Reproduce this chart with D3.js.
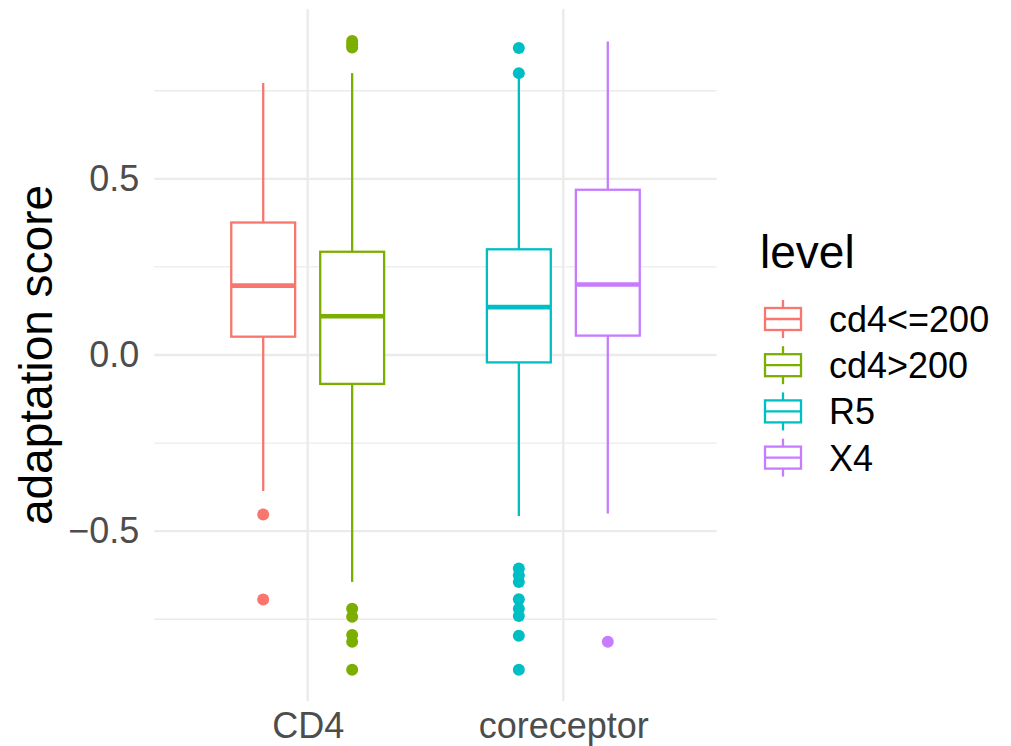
<!DOCTYPE html>
<html>
<head>
<meta charset="utf-8">
<script src="https://cdn.jsdelivr.net/npm/d3@7"></script>
<style>
  html, body { margin: 0; padding: 0; background: #ffffff; }
  svg { display: block; font-family: "Liberation Sans", Arial, Helvetica, sans-serif; }
</style>
</head>
<body>
<svg id="chart" width="1011" height="746"></svg>
<script>
// ---- Data ----
const groups = ["CD4", "coreceptor"];
const levels = ["cd4<=200", "cd4>200", "R5", "X4"];
const levelGroup = ["CD4", "CD4", "coreceptor", "coreceptor"];
const levelColors = ["#F8766D", "#7CAE00", "#00BFC4", "#C77CFF"];
const whiskerLow  = [-0.386, -0.644, -0.457, -0.450];
const q1          = [ 0.052, -0.082, -0.021,  0.055];
const median      = [ 0.197,  0.110,  0.136,  0.200];
const q3          = [ 0.376,  0.293,  0.300,  0.469];
const whiskerHigh = [ 0.772,  0.800,  0.795,  0.890];
const outliersCd4Low  = [-0.453, -0.694];
const outliersCd4High = [0.891, 0.882, 0.873, -0.720, -0.743, -0.795, -0.814, -0.893];
const outliersR5      = [0.871, 0.800, -0.606, -0.625, -0.644, -0.693, -0.720, -0.741, -0.797, -0.893];
const outliersX4      = [-0.814];
const outliers = [outliersCd4Low, outliersCd4High, outliersR5, outliersX4];
const yMajorTicks = [-0.5, 0.0, 0.5];
const yMinorTicks = [-0.75, -0.25, 0.25, 0.75];
const yTitle = "adaptation score";
const legendTitle = "level";

// ---- Layout ----
const svg = d3.select("#chart");
const panel = { left: 154.3, right: 716.7, top: 9, bottom: 701 };
const x = d3.scalePoint().domain(groups).range([panel.left, panel.right]).padding(0.6);
const step = x.step();
const y = d3.scaleLinear().domain([-0.982, 0.982]).range([panel.bottom, panel.top]);
const dodgeIdx = levels.map((l, i) => levelGroup.slice(0, i).filter(g => g === levelGroup[i]).length);
const nInGroup = levels.map((l, i) => levelGroup.filter(g => g === levelGroup[i]).length);
const dodgeOff = 0.174 * step * 2;
const boxW = 0.25 * step;
const cx = i => x(levelGroup[i]) + (dodgeIdx[i] - (nInGroup[i] - 1) / 2) * dodgeOff;

const gridColor = "#EBEBEB";
const g = svg.append("g");

// minor grid
g.selectAll("line.minor").data(yMinorTicks).join("line")
  .attr("x1", panel.left).attr("x2", panel.right)
  .attr("y1", d => y(d)).attr("y2", d => y(d))
  .attr("stroke", gridColor).attr("stroke-width", 1.3);
// major grid
g.selectAll("line.major").data(yMajorTicks).join("line")
  .attr("x1", panel.left).attr("x2", panel.right)
  .attr("y1", d => y(d)).attr("y2", d => y(d))
  .attr("stroke", gridColor).attr("stroke-width", 2.4);
g.selectAll("line.vmajor").data(groups).join("line")
  .attr("x1", d => x(d)).attr("x2", d => x(d))
  .attr("y1", panel.top).attr("y2", panel.bottom)
  .attr("stroke", gridColor).attr("stroke-width", 2.4);

// axes
const yAxis = d3.axisLeft(y).tickValues(yMajorTicks).tickSize(0).tickPadding(15)
  .tickFormat(d3.format(".1f"));
const ya = svg.append("g").attr("transform", `translate(${panel.left},0)`).call(yAxis);
ya.select(".domain").remove();
ya.selectAll("text").attr("fill", "#4D4D4D").attr("font-size", 36)
  .attr("font-family", "Liberation Sans, Arial, sans-serif");

const xAxis = d3.axisBottom(x).tickSize(0);
const xa = svg.append("g").attr("transform", `translate(0,${panel.bottom})`).call(xAxis);
xa.select(".domain").remove();
xa.selectAll("text").attr("fill", "#4D4D4D").attr("font-size", 36)
  .attr("font-family", "Liberation Sans, Arial, sans-serif")
  .attr("dy", null).attr("y", 36.5);

// y title
svg.append("text")
  .attr("transform", `translate(52,${(panel.top + panel.bottom) / 2}) rotate(-90)`)
  .attr("text-anchor", "middle").attr("font-size", 46).attr("fill", "#000")
  .text(yTitle);

// boxes
const boxes = svg.append("g");
levels.forEach((lv, i) => {
  const c = cx(i), col = levelColors[i];
  const bg = boxes.append("g");
  bg.append("line").attr("x1", c).attr("x2", c).attr("y1", y(q3[i])).attr("y2", y(whiskerHigh[i]))
    .attr("stroke", col).attr("stroke-width", 2.3);
  bg.append("line").attr("x1", c).attr("x2", c).attr("y1", y(q1[i])).attr("y2", y(whiskerLow[i]))
    .attr("stroke", col).attr("stroke-width", 2.3);
  bg.append("rect").attr("x", c - boxW / 2).attr("width", boxW)
    .attr("y", y(q3[i])).attr("height", y(q1[i]) - y(q3[i]))
    .attr("fill", "#fff").attr("stroke", col).attr("stroke-width", 2.3);
  bg.append("line").attr("x1", c - boxW / 2).attr("x2", c + boxW / 2)
    .attr("y1", y(median[i])).attr("y2", y(median[i]))
    .attr("stroke", col).attr("stroke-width", 4.6);
  bg.selectAll("circle").data(outliers[i]).join("circle")
    .attr("cx", c).attr("cy", d => y(d)).attr("r", 6).attr("fill", col);
});

// legend
const lg = svg.append("g");
lg.append("text").attr("x", 760).attr("y", 268).attr("font-size", 46).attr("fill", "#000").text(legendTitle);
const keyY0 = 319, keyStep = 46.2, keyX = 783, keyW = 36, keyH = 22;
levels.forEach((lv, i) => {
  const cy = keyY0 + i * keyStep, col = levelColors[i];
  lg.append("line").attr("x1", keyX).attr("x2", keyX).attr("y1", cy - 19).attr("y2", cy + 19)
    .attr("stroke", col).attr("stroke-width", 2.3);
  lg.append("rect").attr("x", keyX - keyW / 2).attr("y", cy - keyH / 2).attr("width", keyW).attr("height", keyH)
    .attr("fill", "#fff").attr("stroke", col).attr("stroke-width", 2.3);
  lg.append("line").attr("x1", keyX - keyW / 2).attr("x2", keyX + keyW / 2).attr("y1", cy).attr("y2", cy)
    .attr("stroke", col).attr("stroke-width", 2.3);
  lg.append("text").attr("x", 829).attr("y", cy).attr("dy", "0.36em").attr("font-size", 36)
    .attr("fill", "#000").text(lv);
});
</script>
</body>
</html>
